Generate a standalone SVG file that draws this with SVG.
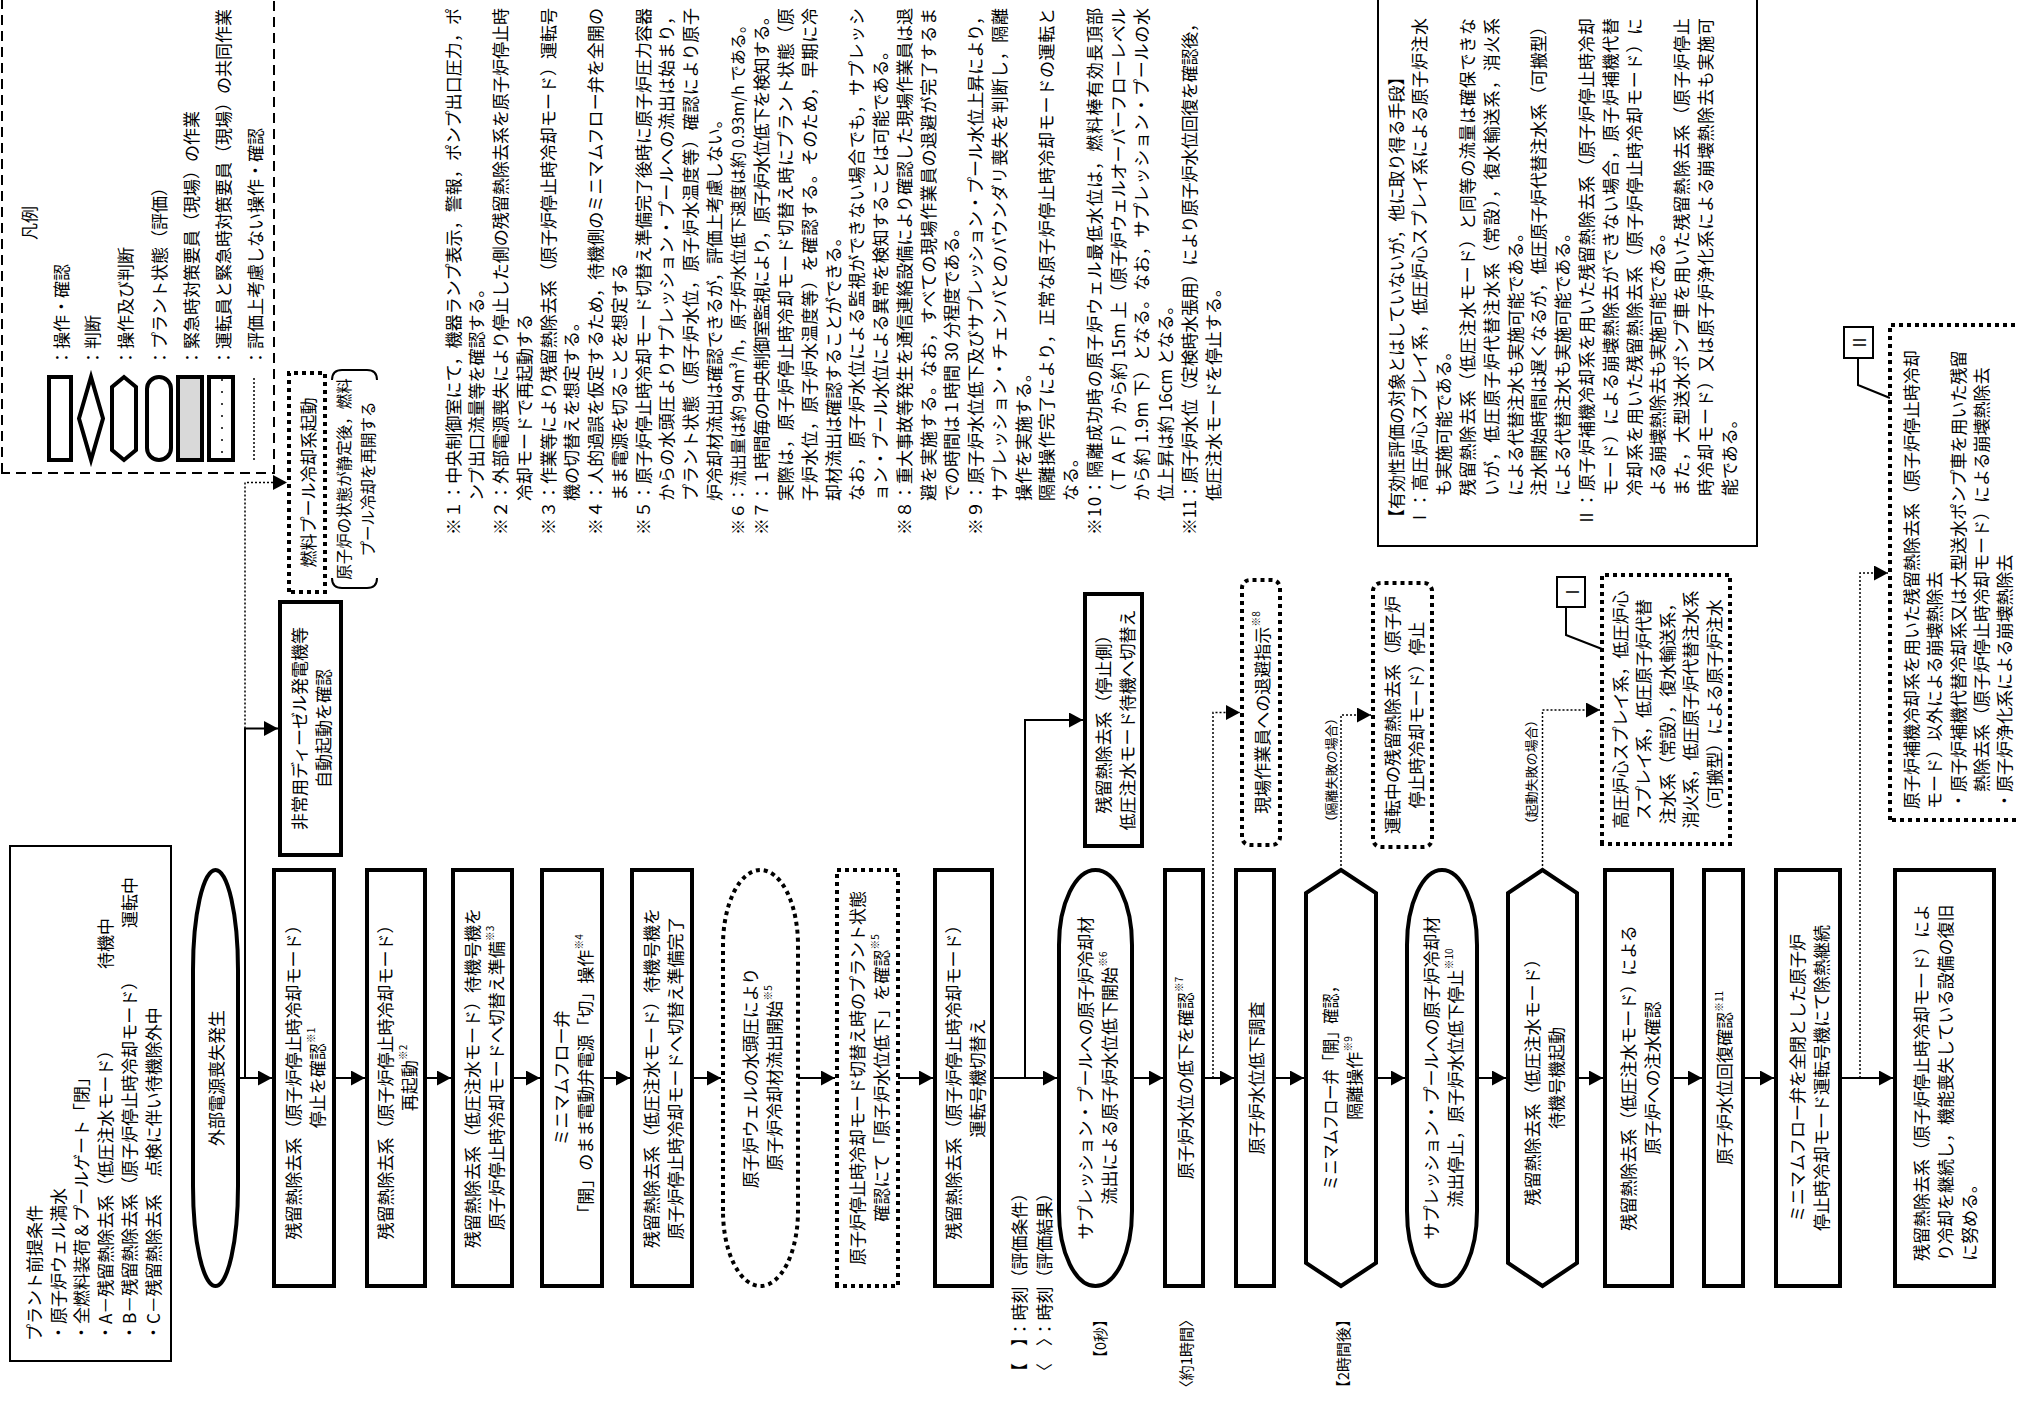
<svg xmlns="http://www.w3.org/2000/svg" width="2017" height="1406" viewBox="0 0 2017 1406">
<defs>
<style>
text{font-family:"Noto Sans CJK JP","Noto Sans CJK SC",sans-serif;font-size:17px;fill:#000;dominant-baseline:central}
.m{text-anchor:middle}
.e{text-anchor:end}
.s{font-size:10px}
.sm{font-size:13px}
.tl{font-size:15px}
.bx{fill:#fff;stroke:#000;stroke-width:4}
.dt{fill:#fff;stroke:#000;stroke-width:4;stroke-dasharray:4 4}
.thin{fill:#fff;stroke:#000;stroke-width:2}
.ln{fill:none;stroke:#000;stroke-width:2}
.dl{fill:none;stroke:#000;stroke-width:1.5;stroke-dasharray:2 2}
.ar{marker-end:url(#ah)}
</style>
<marker id="ah" markerWidth="14" markerHeight="15" refX="14" refY="7.5" orient="auto" markerUnits="userSpaceOnUse"><path d="M0,0 L14,7.5 L0,15 z" fill="#000"/></marker>
<pattern id="stip" width="12" height="12" patternUnits="userSpaceOnUse"><rect width="12" height="12" fill="#fff"/><circle cx="6" cy="6" r="1" fill="#000"/></pattern>
</defs>
<rect width="2017" height="1406" fill="#fff"/>
<g transform="matrix(0,-1,1,0,0,1406)">

<g id="connectors">
<path class="ln ar" d="M328,238 V272"/>
<path class="ln ar" d="M328,334 V365"/>
<path class="ln ar" d="M328,425 V451"/>
<path class="ln ar" d="M328,512 V540"/>
<path class="ln ar" d="M328,602 V630"/>
<path class="ln ar" d="M328,692 V721"/>
<path class="ln ar" d="M328,798 V835"/>
<path class="ln ar" d="M328,898 V933"/>
<path class="ln ar" d="M328,992 V1057"/>
<path class="ln ar" d="M328,1132 V1163"/>
<path class="ln ar" d="M328,1203 V1234"/>
<path class="ln ar" d="M328,1274 V1304"/>
<path class="ln ar" d="M328,1376 V1405"/>
<path class="ln ar" d="M328,1477 V1506"/>
<path class="ln ar" d="M328,1577 V1603"/>
<path class="ln ar" d="M328,1672 V1702"/>
<path class="ln ar" d="M328,1743 V1774"/>
<path class="ln ar" d="M328,1840 V1893"/>
<path class="ln ar" d="M328,245 H677.5 V278"/>
<path class="dl ar" d="M677.5,245 H923.5 V287"/>
<path class="ln ar" d="M328,1025 H686 V1083"/>
<path class="dl ar" d="M328,1213 H693.5 V1240"/>
<path class="dl ar" d="M536,1341 H691 V1371"/>
<path class="dl ar" d="M536,1542.5 H696 V1600"/>
<path class="dl ar" d="M328,1860 H833 V1888"/>
<path class="ln" d="M799,1566 H771 L757,1602"/>
<path class="ln" d="M1048,1858 H1021 L1008,1890"/>
</g>

<g id="legend">
<rect x="933" y="2" width="500" height="272" fill="none" stroke="#000" stroke-width="2" stroke-dasharray="10 6"/>
<text class="m" x="1183" y="28">凡例</text>
<rect class="bx" x="946" y="49" width="83" height="22"/>
<polygon class="bx" points="946,91 987.5,79 1029,91 987.5,103"/>
<polygon class="bx" points="946,124 956,112 1019,112 1029,124 1019,136 956,136"/>
<rect class="bx" x="946" y="147" width="83" height="24" rx="12" ry="12"/>
<rect x="946" y="178" width="83" height="24" fill="#d9d9d9" stroke="#000" stroke-width="4"/>
<rect x="946" y="209" width="83" height="24" fill="url(#stip)" stroke="#000" stroke-width="4"/>
<path class="dl" d="M946,254 H1029"/>
<text x="1040" y="60">：操作・確認</text>
<text x="1040" y="91">：判断</text>
<text x="1040" y="124">：操作及び判断</text>
<text x="1040" y="158">：プラント状態（評価）</text>
<text x="1040" y="190">：緊急時対策要員（現場）の作業</text>
<text x="1040" y="222">：運転員と緊急時対策要員（現場）の共同作業</text>
<text x="1040" y="254">：評価上考慮しない操作・確認</text>
</g>

<g id="precondition">
<rect class="thin" x="45" y="10" width="515" height="161"/>
<text x="65" y="33">プラント前提条件</text>
<text x="65" y="57">・原子炉ウェル満水</text>
<text x="65" y="80">・全燃料装荷＆プールゲート「閉」</text>
<text x="65" y="104">・A－残留熱除去系（低圧注水モード）</text>
<text x="437" y="104">待機中</text>
<text x="65" y="128">・B－残留熱除去系（原子炉停止時冷却モード）</text>
<text x="478" y="128">運転中</text>
<text x="65" y="152">・C－残留熱除去系　点検に伴い待機除外中</text>
</g>

<g id="notes">
<text x="871" y="452" textLength="527" lengthAdjust="spacing">※１：中央制御室にて，機器ランプ表示，警報，ポンプ出口圧力，ポ</text>
<text x="905" y="475.75">ンプ出口流量等を確認する。</text>
<text x="871" y="499.5" textLength="527" lengthAdjust="spacing">※２：外部電源喪失により停止した側の残留熱除去系を原子炉停止時</text>
<text x="905" y="523.25">冷却モードで再起動する</text>
<text x="871" y="547" textLength="527" lengthAdjust="spacing">※３：作業等により残留熱除去系（原子炉停止時冷却モード）運転号</text>
<text x="905" y="570.75">機の切替えを想定する。</text>
<text x="871" y="594.5" textLength="527" lengthAdjust="spacing">※４：人的過誤を仮定するため，待機側のミニマムフロー弁を全開の</text>
<text x="905" y="618.25">まま電源を切ることを想定する</text>
<text x="871" y="642" textLength="527" lengthAdjust="spacing">※５：原子炉停止時冷却モード切替え準備完了後時に原子炉圧力容器</text>
<text x="905" y="665.75" textLength="493" lengthAdjust="spacing">からの水頭圧よりサプレッション・プールへの流出は始まり，</text>
<text x="905" y="689.5" textLength="493" lengthAdjust="spacing">プラント状態（原子炉水位，原子炉水温度等）確認により原子</text>
<text x="905" y="713.25">炉冷却材流出は確認できるが，評価上考慮しない。</text>
<text x="871" y="737" style="font-size:16px" textLength="518" lengthAdjust="spacing">※６：流出量は約 94m³/h，原子炉水位低下速度は約 0.93m/h である。</text>
<text x="871" y="760.75" textLength="527" lengthAdjust="spacing">※７：１時間毎の中央制御室監視により，原子炉水位低下を検知する。</text>
<text x="905" y="784.5" textLength="493" lengthAdjust="spacing">実際は，原子炉停止時冷却モード切替え時にプラント状態（原</text>
<text x="905" y="808.25" textLength="493" lengthAdjust="spacing">子炉水位，原子炉水温度等）を確認する。そのため，早期に冷</text>
<text x="905" y="832">却材流出は確認することができる。</text>
<text x="905" y="855.75" textLength="493" lengthAdjust="spacing">なお，原子炉水位による監視ができない場合でも，サプレッシ</text>
<text x="905" y="879.5">ョン・プール水位による異常を検知することは可能である。</text>
<text x="871" y="903.25" textLength="527" lengthAdjust="spacing">※８：重大事故等発生を通信連絡設備により確認した現場作業員は退</text>
<text x="905" y="927" textLength="493" lengthAdjust="spacing">避を実施する。なお，すべての現場作業員の退避が完了するま</text>
<text x="905" y="950.75">での時間は１時間 30 分程度である。</text>
<text x="871" y="974.5" textLength="527" lengthAdjust="spacing">※９：原子炉水位低下及びサプレッション・プール水位上昇により，</text>
<text x="905" y="998.25" textLength="493" lengthAdjust="spacing">サプレッション・チェンバとのバウンダリ喪失を判断し，隔離</text>
<text x="905" y="1022">操作を実施する。</text>
<text x="905" y="1045.75" textLength="493" lengthAdjust="spacing">隔離操作完了により，正常な原子炉停止時冷却モードの運転と</text>
<text x="905" y="1069.5">なる。</text>
<text x="871" y="1093.25" textLength="527" lengthAdjust="spacing">※10：隔離成功時の原子炉ウェル最低水位は，燃料棒有効長頂部</text>
<text x="905" y="1117" textLength="493" lengthAdjust="spacing">（ＴＡＦ）から約 15m 上（原子炉ウェルオーバーフローレベル</text>
<text x="905" y="1140.75" textLength="493" lengthAdjust="spacing">から約 1.9m 下）となる。なお，サプレッション・プールの水</text>
<text x="905" y="1164.5">位上昇は約 16cm となる。</text>
<text x="871" y="1188.25" textLength="520" lengthAdjust="spacing">※11：原子炉水位（定検時水張用）により原子炉水位回復を確認後，</text>
<text x="905" y="1212">低圧注水モードを停止する。</text>
</g>

<g id="other-means">
<rect class="thin" x="860" y="1378" width="560" height="379"/>
<text x="880" y="1395">【有効性評価の対象とはしていないが，他に取り得る手段】</text>
<text x="880" y="1418.8" textLength="508" lengthAdjust="spacing">Ⅰ：高圧炉心スプレイ系，低圧炉心スプレイ系による原子炉注水</text>
<text x="910" y="1442.6">も実施可能である。</text>
<text x="910" y="1466.4" textLength="478" lengthAdjust="spacing">残留熱除去系（低圧注水モード）と同等の流量は確保できな</text>
<text x="910" y="1490.2" textLength="478" lengthAdjust="spacing">いが，低圧原子炉代替注水系（常設），復水輸送系，消火系</text>
<text x="910" y="1514">による代替注水も実施可能である。</text>
<text x="910" y="1537.8" textLength="478" lengthAdjust="spacing">注水開始時間は遅くなるが，低圧原子炉代替注水系（可搬型）</text>
<text x="910" y="1561.6">による代替注水も実施可能である。</text>
<text x="880" y="1585.4" textLength="508" lengthAdjust="spacing">Ⅱ：原子炉補機冷却系を用いた残留熱除去系（原子炉停止時冷却</text>
<text x="910" y="1609.2" textLength="478" lengthAdjust="spacing">モード）による崩壊熱除去ができない場合，原子炉補機代替</text>
<text x="910" y="1633" textLength="478" lengthAdjust="spacing">冷却系を用いた残留熱除去系（原子炉停止時冷却モード）に</text>
<text x="910" y="1656.8">よる崩壊熱除去も実施可能である。</text>
<text x="910" y="1680.6" textLength="478" lengthAdjust="spacing">また，大型送水ポンプ車を用いた残留熱除去系（原子炉停止</text>
<text x="910" y="1704.4" textLength="478" lengthAdjust="spacing">時冷却モード）又は原子炉浄化系による崩壊熱除去も実施可</text>
<text x="910" y="1728.2">能である。</text>
</g>

<g id="n-start"><rect class="bx" x="120" y="193" width="416" height="45" rx="100" ry="22.5"/><text class="m" x="328" y="215.5">外部電源喪失発生</text></g>
<g id="n-diesel"><rect class="bx" x="551" y="280" width="253" height="61"/><text class="m" x="677.5" y="298">非常用ディーゼル発電機等</text><text class="m" x="677.5" y="322">自動起動を確認</text></g>
<g id="n-fuelpool"><rect class="dt" x="814" y="289" width="219" height="36"/><text class="m" x="923.5" y="307">燃料プール冷却系起動</text></g>
<g id="n-fuelpool-note"><path class="ln" d="M828,332 Q818,332 818,342 V367 Q818,377 828,377 M1026,332 Q1036,332 1036,342 V367 Q1036,377 1026,377"/><text class="m" x="927" y="343" style="font-size:15.5px">原子炉の状態が静定後，燃料</text><text class="m" x="927" y="367" style="font-size:15.5px">プール冷却を再開する</text></g>

<g id="n1"><rect class="bx" x="120" y="274" width="416" height="60"/><text class="m" x="328" y="292">残留熱除去系（原子炉停止時冷却モード）</text><text class="m" x="328" y="316">停止を確認<tspan class="s" dy="-6">※1</tspan></text></g>
<g id="n2"><rect class="bx" x="120" y="367" width="416" height="58"/><text class="m" x="328" y="384">残留熱除去系（原子炉停止時冷却モード）</text><text class="m" x="328" y="408">再起動<tspan class="s" dy="-6">※2</tspan></text></g>
<g id="n3"><rect class="bx" x="120" y="453" width="416" height="59"/><text class="m" x="328" y="471">残留熱除去系（低圧注水モード）待機号機を</text><text class="m" x="328" y="495">原子炉停止時冷却モードへ切替え準備<tspan class="s" dy="-6">※3</tspan></text></g>
<g id="n4"><rect class="bx" x="120" y="542" width="416" height="60"/><text class="m" x="328" y="560">ミニマムフロー弁</text><text class="m" x="328" y="584">「開」のまま電動弁電源「切」操作<tspan class="s" dy="-6">※4</tspan></text></g>
<g id="n5"><rect class="bx" x="120" y="632" width="416" height="60"/><text class="m" x="328" y="650">残留熱除去系（低圧注水モード）待機号機を</text><text class="m" x="328" y="674">原子炉停止時冷却モードへ切替え準備完了</text></g>
<g id="n6"><rect class="dt" x="120" y="723" width="416" height="75" rx="75" ry="37.5"/><text class="m" x="328" y="749">原子炉ウェルの水頭圧により</text><text class="m" x="328" y="773">原子炉冷却材流出開始<tspan class="s" dy="-6">※5</tspan></text></g>
<g id="n7"><rect class="dt" x="120" y="837" width="416" height="61"/><text class="m" x="328" y="856">原子炉停止時冷却モード切替え時のプラント状態</text><text class="m" x="328" y="880">確認にて「原子炉水位低下」を確認<tspan class="s" dy="-6">※5</tspan></text></g>
<g id="n8"><rect class="bx" x="120" y="935" width="416" height="57"/><text class="m" x="328" y="952">残留熱除去系（原子炉停止時冷却モード）</text><text class="m" x="328" y="976">運転号機切替え</text></g>
<g id="n-stopside"><rect class="bx" x="560" y="1085" width="252" height="57"/><text class="m" x="686" y="1102">残留熱除去系（停止側）</text><text class="m" x="686" y="1126">低圧注水モード待機へ切替え</text></g>
<g id="n9"><rect class="bx" x="120" y="1059" width="416" height="73" rx="75" ry="36.5"/><text class="m" x="328" y="1084">サプレッション・プールへの原子炉冷却材</text><text class="m" x="328" y="1108">流出による原子炉水位低下開始<tspan class="s" dy="-6">※6</tspan></text></g>
<g id="n10"><rect class="bx" x="120" y="1165" width="416" height="38"/><text class="m" x="328" y="1184">原子炉水位の低下を確認<tspan class="s" dy="-6">※7</tspan></text></g>
<g id="n11"><rect class="bx" x="120" y="1236" width="416" height="38"/><text class="m" x="328" y="1255">原子炉水位低下調査</text></g>
<g id="n-evac"><rect class="dt" x="561" y="1242" width="265" height="38" rx="8"/><text class="m" x="693.5" y="1261">現場作業員への退避指示<tspan class="s" dy="-6">※8</tspan></text></g>
<g id="n12"><polygon class="bx" points="120,1341 143,1306 513,1306 536,1341 513,1376 143,1376"/><text class="m" x="322" y="1329" textLength="212" lengthAdjust="spacingAndGlyphs">ミニマムフロー弁「開」確認，</text><text class="m" x="328" y="1353">隔離操作<tspan class="s" dy="-6">※9</tspan></text></g>
<g id="n-isofail"><text class="m sm" x="636" y="1330">（隔離失敗の場合）</text><rect class="dt" x="559" y="1373" width="264" height="59" rx="8"/><text class="m" x="691" y="1391">運転中の残留熱除去系（原子炉</text><text class="m" x="691" y="1415">停止時冷却モード）停止</text></g>
<g id="n13"><rect class="bx" x="120" y="1407" width="416" height="70" rx="75" ry="35"/><text class="m" x="328" y="1430">サプレッション・プールへの原子炉冷却材</text><text class="m" x="328" y="1454">流出停止，原子炉水位低下停止<tspan class="s" dy="-6">※10</tspan></text></g>
<g id="n14"><polygon class="bx" points="120,1542.5 143,1508 513,1508 536,1542.5 513,1577 143,1577"/><text class="m" x="328" y="1531">残留熱除去系（低圧注水モード）</text><text class="m" x="328" y="1555">待機号機起動</text></g>
<g id="n-startfail"><text class="m sm" x="634" y="1530">（起動失敗の場合）</text></g>
<g id="n-I"><rect class="dt" x="562" y="1602" width="269" height="128"/><text class="m" x="696.5" y="1619">高圧炉心スプレイ系，低圧炉心</text><text class="m" x="696.5" y="1642.5">スプレイ系，低圧原子炉代替</text><text class="m" x="696.5" y="1666">注水系（常設），復水輸送系，</text><text class="m" x="696.5" y="1689.5">消火系，低圧原子炉代替注水系</text><text class="m" x="696.5" y="1713">（可搬型）による原子炉注水</text></g>
<g id="label-I"><rect class="thin" x="799" y="1557" width="30" height="28"/><text class="m" x="814" y="1571">Ⅰ</text></g>
<g id="n15"><rect class="bx" x="120" y="1605" width="416" height="67"/><text class="m" x="328" y="1627">残留熱除去系（低圧注水モード）による</text><text class="m" x="328" y="1651">原子炉への注水確認</text></g>
<g id="n16"><rect class="bx" x="120" y="1704" width="416" height="39"/><text class="m" x="328" y="1723.5">原子炉水位回復確認<tspan class="s" dy="-6">※11</tspan></text></g>
<g id="n17"><rect class="bx" x="120" y="1776" width="416" height="64"/><text class="m" x="328" y="1796">ミニマムフロー弁を全閉とした原子炉</text><text class="m" x="328" y="1820">停止時冷却モード運転号機にて除熱継続</text></g>
<g id="n18"><rect class="bx" x="120" y="1895" width="416" height="99"/><text x="145" y="1920">残留熱除去系（原子炉停止時冷却モード）によ</text><text x="145" y="1944">り冷却を継続し，機能喪失している設備の復旧</text><text x="145" y="1968">に努める。</text></g>
<g id="n-II"><rect class="dt" x="586" y="1890" width="495" height="200"/><text x="597" y="1910">原子炉補機冷却系を用いた残留熱除去系（原子炉停止時冷却</text><text x="597" y="1933">モード）以外による崩壊熱除去</text><text x="597" y="1957">・原子炉補機代替冷却系又は大型送水ポンプ車を用いた残留</text><text x="614" y="1980">熱除去系（原子炉停止時冷却モード）による崩壊熱除去</text><text x="597" y="2003">・原子炉浄化系による崩壊熱除去</text></g>
<g id="label-II"><rect class="thin" x="1048" y="1844" width="31" height="29"/><text class="m" x="1063.5" y="1858.5">Ⅱ</text></g>

<g id="time-labels">
<text x="26" y="1018">【　】：時刻（評価条件）</text>
<text x="26" y="1043">〈　〉：時刻（評価結果）</text>
<text class="e tl" x="94" y="1099">【0秒】</text>
<text class="e tl" x="94" y="1185">〈約1時間〉</text>
<text class="e tl" x="94" y="1342">【2時間後】</text>
</g>
</g>
</svg>
